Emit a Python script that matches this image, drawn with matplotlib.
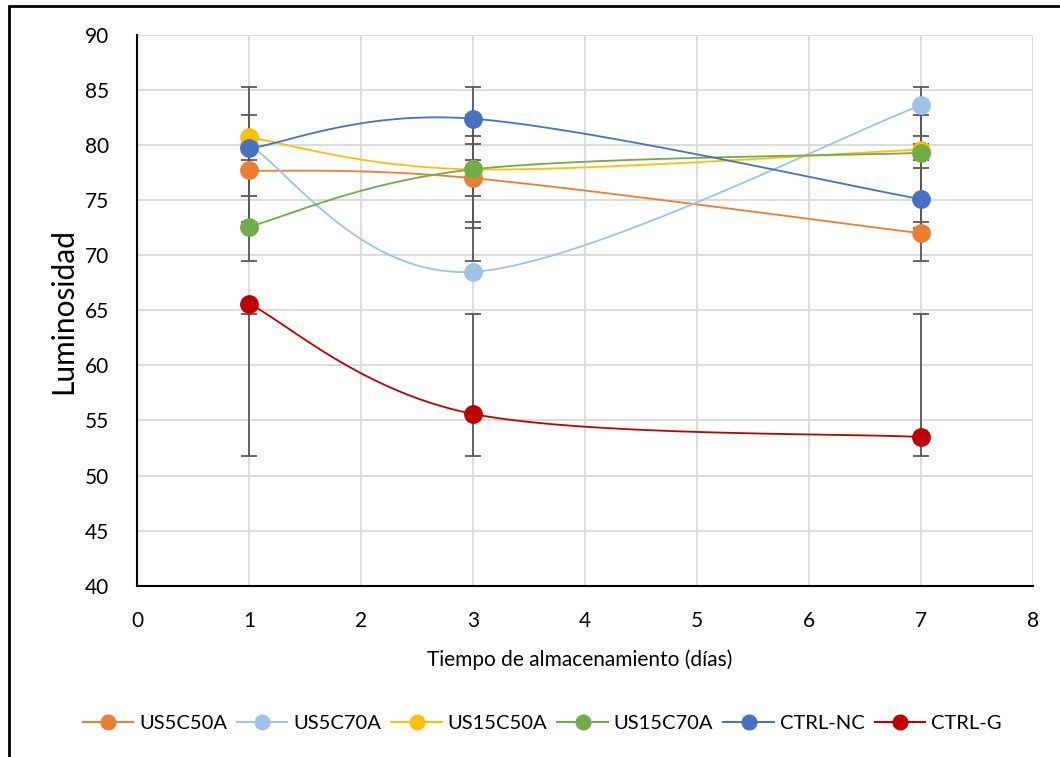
import numpy as np
import matplotlib
matplotlib.use("Agg")
import matplotlib.pyplot as plt
from matplotlib.lines import Line2D
from matplotlib.patches import Rectangle

plt.rcParams['font.family'] = ['Lato', 'DejaVu Sans']

dias = [1, 3, 7]
series = ['US5C50A', 'US5C70A', 'US15C50A', 'US15C70A', 'CTRL-NC', 'CTRL-G']
us5c50a = [77.7, 77.0, 72.0]
us5c70a = [80.0, 68.5, 83.6]
us15c50a = [80.7, 77.8, 79.6]
us15c70a = [72.6, 77.8, 79.3]
ctrl_nc = [79.7, 82.4, 75.1]
ctrl_g = [65.6, 55.6, 53.5]
colores = ['#ED7D31', '#9DC3E6', '#FFC000', '#70AD47', '#4472C4', '#C00000']
valores = [us5c50a, us5c70a, us15c50a, us15c70a, ctrl_nc, ctrl_g]


def smooth(x, y, n=60):
    # excel-like smoothed line (catmull-rom bezier)
    p = np.column_stack([x, y]).astype(float)
    pts = [p[0]] + list(p) + [p[-1]]
    out = []
    t = np.linspace(0, 1, n)[:, None]
    for i in range(1, len(pts) - 2):
        p0, p1, p2, p3 = pts[i - 1], pts[i], pts[i + 1], pts[i + 2]
        c1 = p1 + (p2 - p0) / 6
        c2 = p2 - (p3 - p1) / 6
        b = (1 - t)**3 * p1 + 3 * (1 - t)**2 * t * c1 + 3 * (1 - t) * t**2 * c2 + t**3 * p2
        out.append(b)
    c = np.vstack(out)
    return c[:, 0], c[:, 1]


fig = plt.figure(figsize=(10.6, 7.57), dpi=100)
ax = fig.add_axes([137/1060, 1-585.7/757, (1032.7-137)/1060, (585.7-35)/757])

for nombre, v, col in zip(series, valores, colores):
    v = np.array(v)
    # error bars like excel "standard deviation": around the series mean
    m = v.mean()
    sd = v.std(ddof=1)
    ax.errorbar(dias, [m]*len(dias), yerr=sd, fmt='none', ecolor='#595959',
                elinewidth=1.3, capsize=6, capthick=1.3, zorder=2)

for nombre, v, col in zip(series, valores, colores):
    xs, ys = smooth(dias, v)
    ax.plot(xs, ys, color=col, lw=1.3, zorder=3)
    ax.plot(dias, v, 'o', color=col, ms=12.5, zorder=4)

ax.set_xlim(0, 8)
ax.set_ylim(40, 90)
ax.set_xticks(range(0, 9))
ax.set_yticks(range(40, 91, 5))
ax.grid(True, color='#d9d9d9', lw=1.3)
ax.set_axisbelow(True)
for s in ['top', 'right']:
    ax.spines[s].set_visible(False)
for s in ['left', 'bottom']:
    ax.spines[s].set_linewidth(1.5)
    ax.spines[s].set_color('black')
    ax.spines[s].set_zorder(5)
ax.tick_params(length=0, labelsize=15, colors='black')
ax.tick_params(axis='y', pad=20)
ax.tick_params(axis='x', pad=18)

fig.text(63/1060, 1-311/757, 'Luminosidad', rotation=90, fontsize=21.5,
         ha='center', va='center')
fig.text(580/1060, 1-660/757, 'Tiempo de almacenamiento (días)', fontsize=15,
         ha='center', va='center')

handles = [Line2D([0], [0], color=c, lw=1.5, marker='o', ms=10.5) for c in colores]
fig.legend(handles, series, loc='center', bbox_to_anchor=(542/1060, 1-723/757),
           ncol=6, frameon=False, fontsize=14.5, handlelength=2.5,
           handletextpad=0.3, columnspacing=0.5)

fig.patches.append(Rectangle((9/1060, -0.1), 1.2, (1-6/757)+0.1, transform=fig.transFigure,
                             fill=False, edgecolor='black', lw=2, clip_on=False))

fig.savefig('out.png', dpi=100)
